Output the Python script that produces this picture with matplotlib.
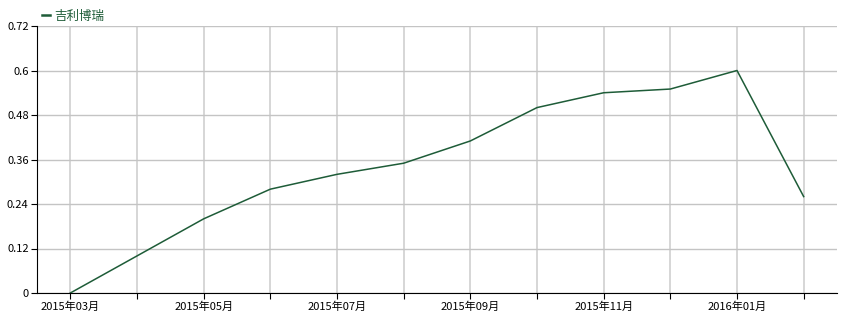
import matplotlib
matplotlib.use('Agg')
import matplotlib.pyplot as plt

plt.rcParams['font.family'] = ['Noto Sans CJK SC', 'DejaVu Sans']

# --- dados ---
meses = ['2015年03月', '2015年04月', '2015年05月', '2015年06月', '2015年07月', '2015年08月',
         '2015年09月', '2015年10月', '2015年11月', '2015年12月', '2016年01月', '2016年02月']
valores = [0, 0.1, 0.2, 0.28, 0.32, 0.35, 0.41, 0.5, 0.54, 0.55, 0.6, 0.26]
serie = '吉利博瑞'
y_ticks = [0, 0.12, 0.24, 0.36, 0.48, 0.6, 0.72]
y_labels = ['0', '0.12', '0.24', '0.36', '0.48', '0.6', '0.72']

cor = '#1e5c38'

fig = plt.figure(figsize=(8.48, 3.21), dpi=100)
ax = fig.add_axes([37 / 848, 28 / 321, 800 / 848, 267 / 321])

x = list(range(len(meses)))
ax.plot(x, valores, color=cor, lw=1.1, label=serie, zorder=3)

ax.set_xlim(-0.5, len(meses) - 0.5)
ax.set_ylim(0, 0.72)
ax.set_yticks(y_ticks)
ax.set_yticklabels(y_labels)
ax.set_xticks(x)
ax.set_xticklabels([m if i % 2 == 0 else '' for i, m in enumerate(meses)])

ax.grid(True, axis='y', color='#c4c4c4', lw=1)
ax.grid(True, axis='x', color='#d0d0d0', lw=1.2)
ax.set_axisbelow(True)
for s in ['top', 'right']:
    ax.spines[s].set_visible(False)
ax.spines['left'].set_color('black')
ax.spines['bottom'].set_color('black')
ax.tick_params(axis='both', labelsize=8, length=4, width=0.8, pad=2, colors='black')

leg = ax.legend(loc='lower left', bbox_to_anchor=(-0.003, 0.985), frameon=False,
                handlelength=0.6, handletextpad=0.4, fontsize=9, borderpad=0.1)
for t in leg.get_texts():
    t.set_color(cor)
leg.get_lines()[0].set_linewidth(1.8)

fig.savefig('out.png', dpi=100)
